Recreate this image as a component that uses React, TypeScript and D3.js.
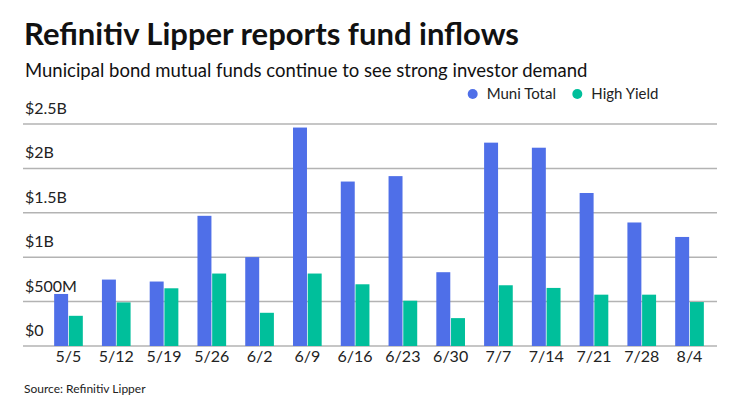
import React from "react";
import * as d3 from "d3";

const weeks = ["5/5", "5/12", "5/19", "5/26", "6/2", "6/9", "6/16", "6/23", "6/30", "7/7", "7/14", "7/21", "7/28", "8/4"];
const muniTotal = [0.586, 0.748, 0.726, 1.466, 1.001, 2.46, 1.852, 1.913, 0.831, 2.29, 2.233, 1.723, 1.391, 1.228];
const highYield = [0.34, 0.491, 0.65, 0.816, 0.374, 0.816, 0.695, 0.51, 0.314, 0.684, 0.654, 0.578, 0.578, 0.495];
const seriesNames = ["Muni Total", "High Yield"];
const seriesColors = ["#4f6fe8", "#00bf9b"];
const yTicks = [0, 0.5, 1, 1.5, 2, 2.5];
const yTickLabels = ["$0", "$500M", "$1B", "$1.5B", "$2B", "$2.5B"];

const width = 740;
const height = 416;
const font = "Lato, 'Open Sans', sans-serif";

const App: React.FC = () => {
  const x = d3.scaleBand<string>().domain(weeks).range([44.6, 713.4]).paddingInner(0.4).paddingOuter(0.2);
  const inner = d3.scaleBand<string>().domain(seriesNames).range([0, x.bandwidth()]).paddingInner(0.05);
  const y = d3.scaleLinear().domain([0, 2.5]).range([346, 124]);

  const series = [muniTotal, highYield];

  return (
    <svg width={width} height={height} style={{ display: "block", position: "absolute", left: 0, top: 0 }} fontFamily={font}>
      <rect width={width} height={height} fill="#fff" />
      <text x={24} y={45} fontSize={31} fontWeight={700} fill="#111">
        Refinitiv Lipper reports fund inflows
      </text>
      <text x={25} y={76.5} fontSize={18.5} fill="#111">
        Municipal bond mutual funds continue to see strong investor demand
      </text>

      {/* legend */}
      {seriesNames.map((name, i) => {
        const lx = i === 0 ? 472.7 : 577.3;
        return (
          <g key={name}>
            <circle cx={lx} cy={94} r={5} fill={seriesColors[i]} />
            <text x={lx + 14} y={99} fontSize={15} fill="#222">
              {name}
            </text>
          </g>
        );
      })}

      {/* grid */}
      {yTicks.map((t, i) => (
        <g key={t}>
          <line x1={23} x2={717} y1={y(t)} y2={y(t)} stroke="#b3b3b3" strokeWidth={1.5} />
          <text x={25} y={y(t) - 10} fontSize={16} fill="#222">
            {yTickLabels[i]}
          </text>
        </g>
      ))}

      {/* bars */}
      {weeks.map((w, wi) => (
        <g key={w} transform={`translate(${x(w)},0)`}>
          {series.map((vals, si) => (
            <rect
              key={si}
              x={inner(seriesNames[si])}
              width={inner.bandwidth()}
              y={y(vals[wi])}
              height={y(0) - y(vals[wi])}
              fill={seriesColors[si]}
            />
          ))}
        </g>
      ))}

      {/* x labels */}
      {weeks.map((w) => (
        <text key={w} x={(x(w) as number) + x.bandwidth() / 2} y={362} fontSize={16} textAnchor="middle" fill="#222">
          {w}
        </text>
      ))}

      <text x={24} y={392.5} fontSize={12} fill="#222">
        Source: Refinitiv Lipper
      </text>
    </svg>
  );
};

export default App;
